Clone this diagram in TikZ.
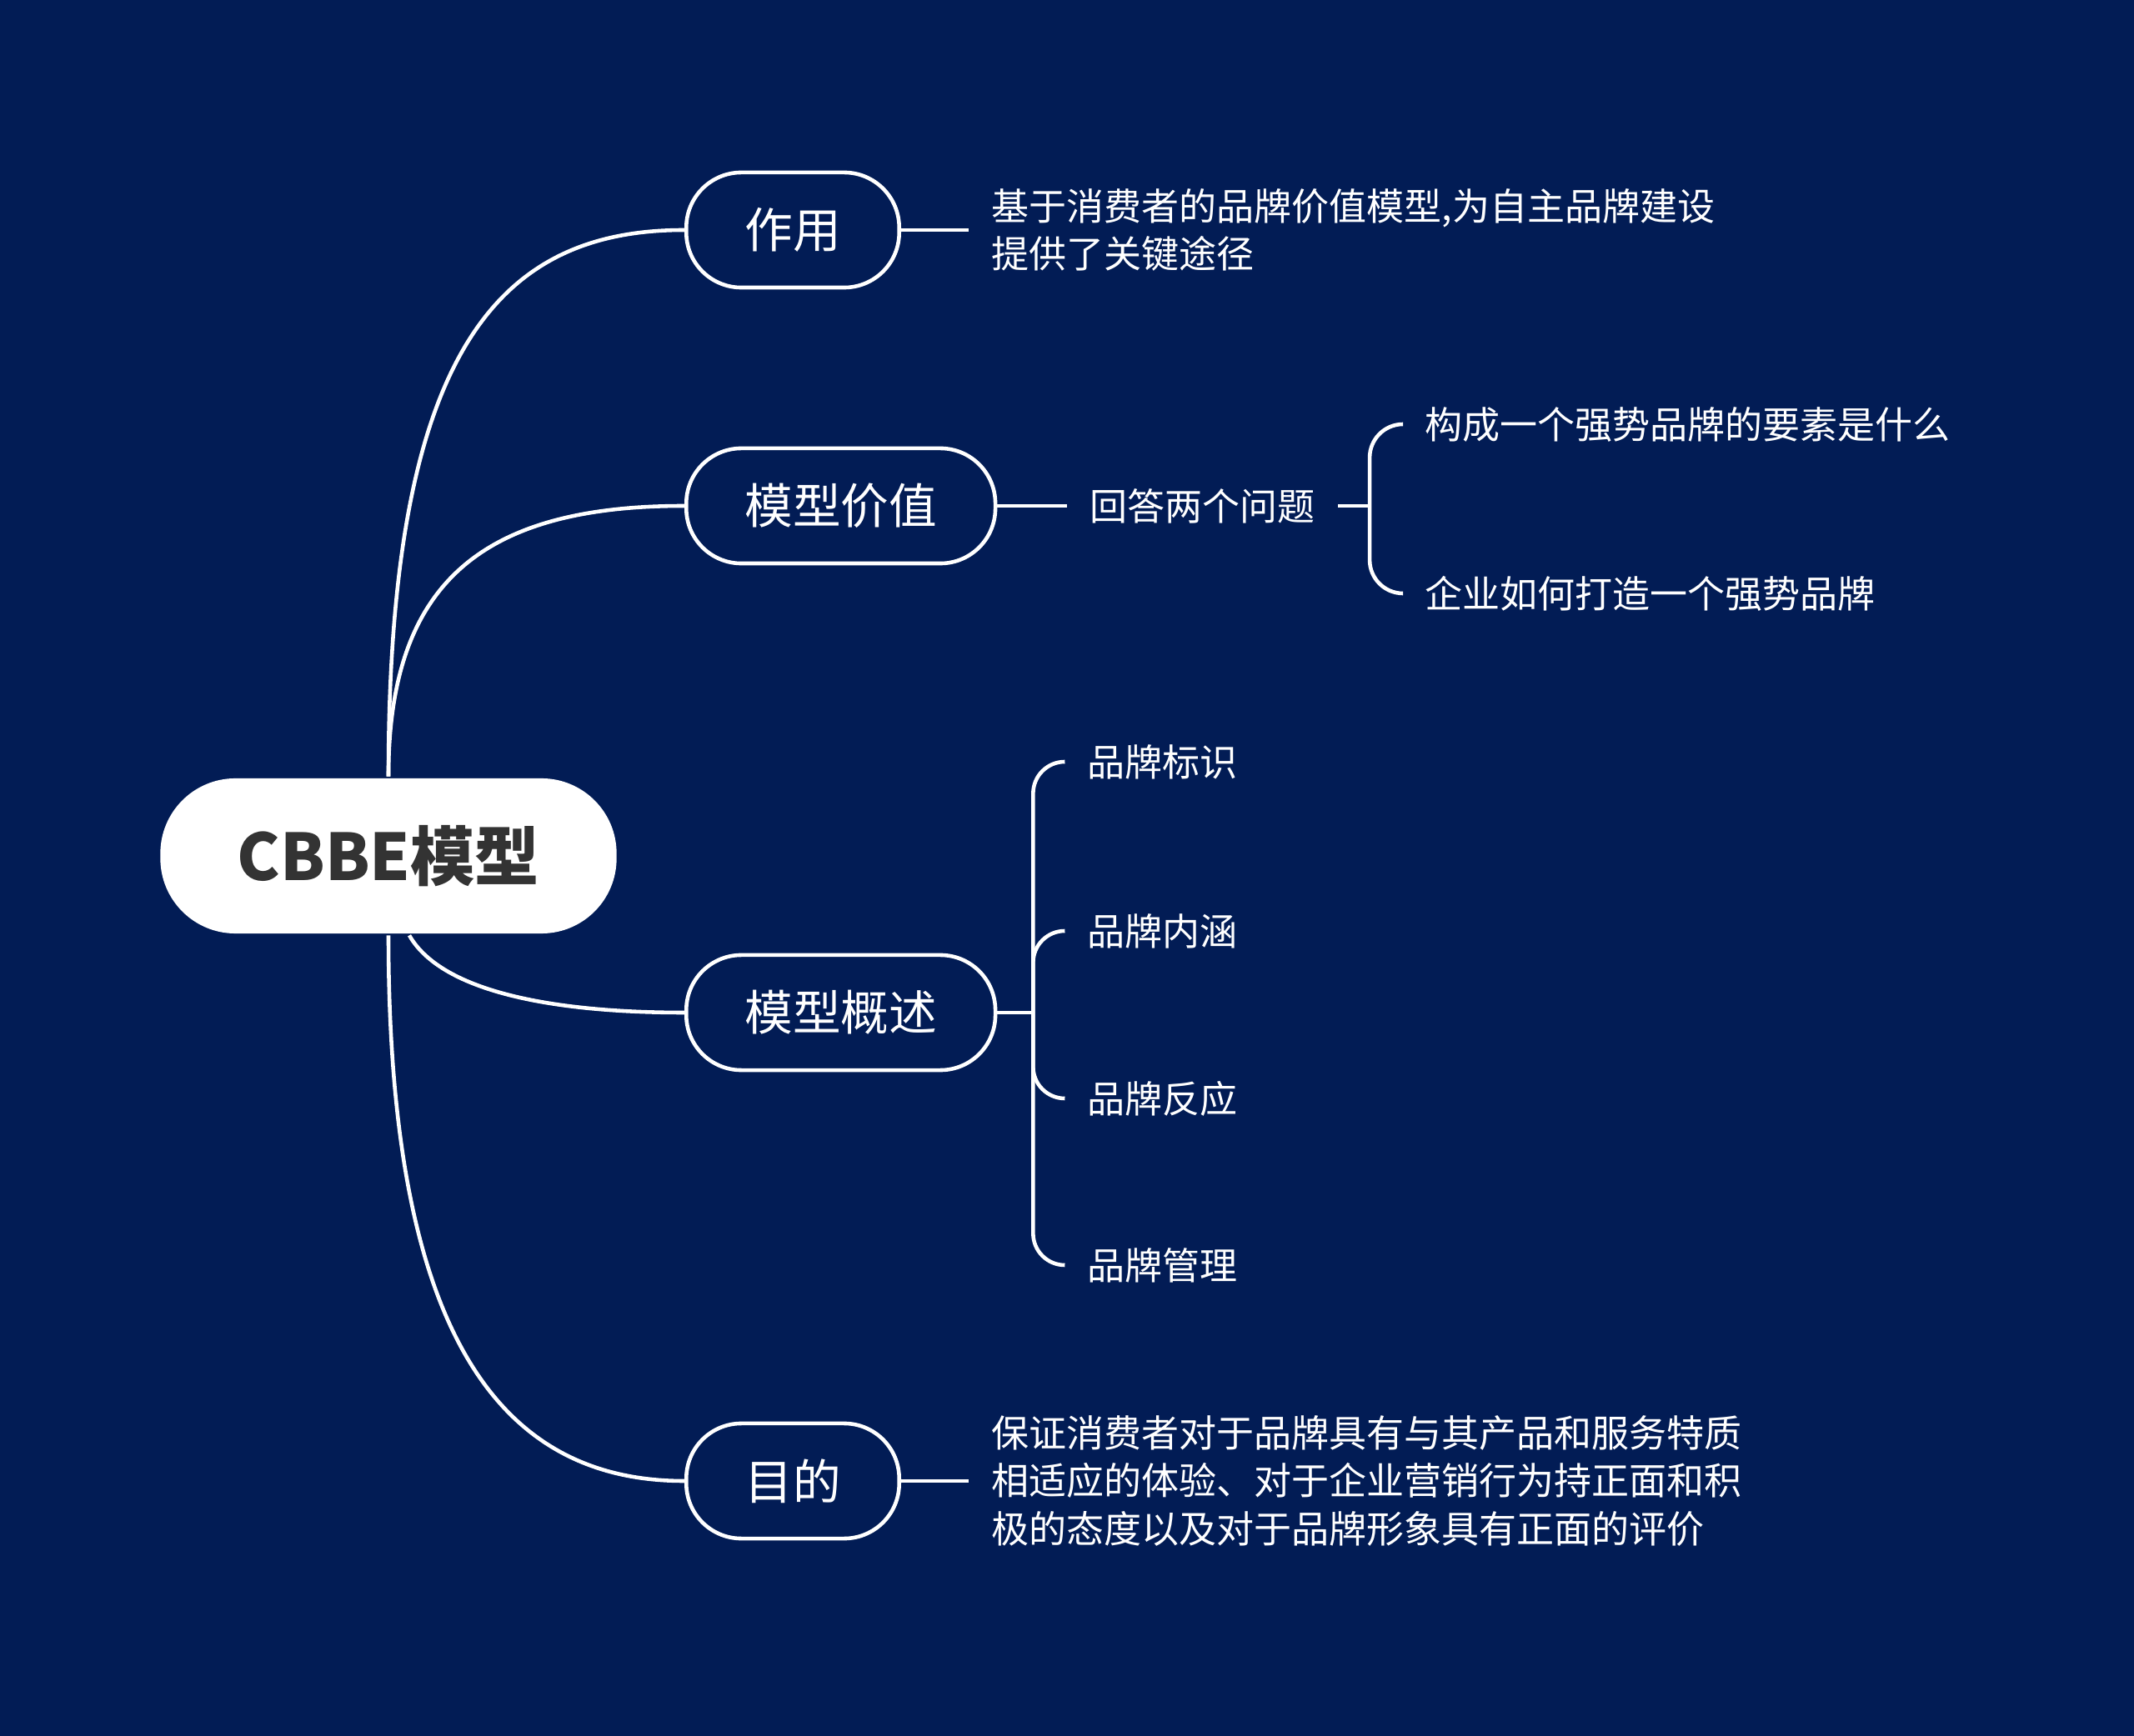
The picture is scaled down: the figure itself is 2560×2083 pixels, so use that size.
\documentclass[tikz,border=0pt]{standalone}
\usepackage{fontspec}
\setmainfont{Noto Sans CJK SC}
\usetikzlibrary{positioning}
\definecolor{navy}{HTML}{021C55}
\definecolor{rootgray}{HTML}{333333}

\begin{document}
\begin{tikzpicture}[x=0.01cm,y=-0.01cm,white,line width=1.3pt,
    root node/.style={fill=white,rounded corners=0.9cm,minimum width=5.47cm,minimum height=1.86cm,text=rootgray,font=\fontsize{22}{26}\selectfont\bfseries},
    main node/.style={draw,fill=navy,rounded corners=0.66cm,minimum height=1.38cm,inner xsep=0.7cm,font=\fontsize{16.4}{20}\selectfont},
    leaf node/.style={inner xsep=0.25cm,align=left,font=\fontsize{12.8}{16.4}\selectfont},
    link/.style={draw=white}]

    \useasboundingbox (0,0) rectangle (2560,2083);
    \fill[navy] (0,0) rectangle (2560,2083);

    \node[root node] (root) at (466,1027) {CBBE模型};
    \node[main node, anchor=west] (zy) at (821,276) {作用};
    \node[main node, anchor=west] (jz) at (821,607) {模型价值};
    \node[main node, anchor=west] (gs) at (821,1215) {模型概述};
    \node[main node, anchor=west] (md) at (821,1777) {目的};

    \node[leaf node, right=0.81cm of zy] (zyt) {基于消费者的品牌价值模型,为自主品牌建设\\提供了关键途径};

    \node[leaf node, right=0.84cm of jz] (hd) {回答两个问题};
    \coordinate[right=0.38cm of hd] (hdj);
    \node[leaf node, anchor=west] (ys) at (1682,509) {构成一个强势品牌的要素是什么};
    \node[leaf node, anchor=west] (dz) at (1682,712) {企业如何打造一个强势品牌};

    \coordinate[right=0.43cm of gs] (gsj);
    \node[leaf node, anchor=west] (bs) at (1277,914) {品牌标识};
    \node[leaf node, anchor=west] (nh) at (1277,1117) {品牌内涵};
    \node[leaf node, anchor=west] (fy) at (1277,1318) {品牌反应};
    \node[leaf node, anchor=west] (gl) at (1277,1518) {品牌管理};

    \node[leaf node, right=0.81cm of md] (mdt) {保证消费者对于品牌具有与其产品和服务特质\\相适应的体验、对于企业营销行为持正面和积\\极的态度以及对于品牌形象具有正面的评价};

    % root to branches
    \draw (root.north) .. controls +(0,-514) and +(-221,0) .. (zy.west);
    \draw (root.north) .. controls +(0,-234) and +(-241,0) .. (jz.west);
    \draw ([xshift=0.25cm]root.south) .. controls +(40,70) and +(-150,0) .. (gs.west);
    \draw (root.south) .. controls +(0,480) and +(-221,0) .. (md.west);

    \path[link]
        (zy.east) edge (zyt.west)
        (jz.east) edge (hd.west)
        (hd.east) edge (hdj)
        (gs.east) edge (gsj)
        (md.east) edge (mdt.west)
        ;

    % brackets
    \draw[rounded corners=0.4cm] (hdj) |- (ys.west) (hdj) |- (dz.west);
    \foreach \leaf in {bs,nh,fy,gl}
        \draw[rounded corners=0.38cm] (gsj) |- (\leaf.west);
\end{tikzpicture}
\end{document}
